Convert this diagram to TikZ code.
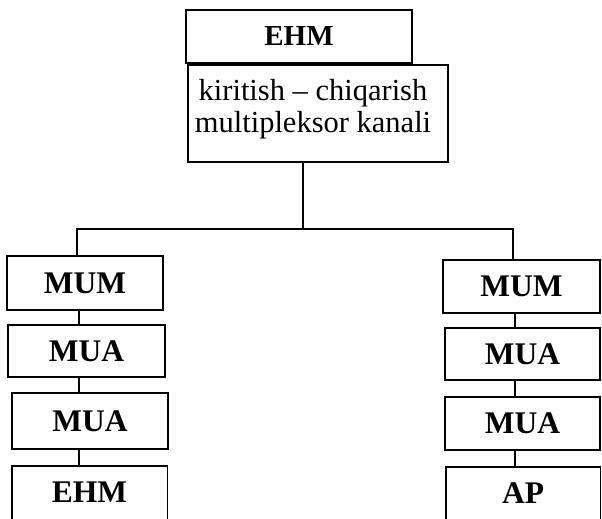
\documentclass[tikz,border=0pt]{standalone}
\usepackage{fontspec}
\setmainfont{Liberation Serif}
\begin{document}
\begin{tikzpicture}[x=1pt,y=-1pt,
  box/.style={draw, line width=1.4pt, inner sep=0pt, font=\fontsize{31.5}{32}\selectfont\bfseries},
  openbox/.style={inner sep=0pt, font=\fontsize{31.5}{32}\selectfont\bfseries},
  link/.style={line width=1.4pt}]
\useasboundingbox (0,0) rectangle (602,519);

% central computer and its channel
\node[box, minimum width=226pt, minimum height=53pt, font=\fontsize{29}{30}\selectfont\bfseries]
  (top) at (299,36.5) {EHM};
\node[draw, line width=1.4pt, minimum width=260pt, minimum height=97pt] (chan) at (318,113.5) {};
\node[align=center, inner sep=0pt, font=\fontsize{30.5}{32}\selectfont] (chantext) at (313,109)
  {kiritish -- chiqarish\\multipleksor kanali};

% left branch
\node[box, minimum width=156pt, minimum height=54pt] (lmum) at (85,283) {MUM};
\node[box, minimum width=157pt, minimum height=52pt] (lmua1) at (86.5,351) {MUA};
\node[box, minimum width=156pt, minimum height=56pt] (lmua2) at (90,421) {MUA};
\node[openbox, minimum width=155pt, minimum height=53pt] (lehm) at (89.5,492.5) {EHM};

% right branch
\node[box, minimum width=157pt, minimum height=53pt] (rmum) at (521.5,286.5) {MUM};
\node[box, minimum width=155pt, minimum height=52pt] (rmua1) at (522.5,354) {MUA};
\node[box, minimum width=155pt, minimum height=53pt] (rmua2) at (522.5,423.5) {MUA};
\node[openbox, minimum width=154pt, minimum height=52pt] (rap) at (523,493) {AP};

% boxes cut off at the lower edge
\draw[link] (lehm.south west) -- (lehm.north west) -- (lehm.north east) -- (lehm.south east);
\draw[link] (rap.south west) -- (rap.north west) -- (rap.north east) -- (rap.south east);

% bus from the channel to both branches
\coordinate (bus) at (303,229);
\coordinate (lb) at (77,229);
\coordinate (rb) at (513,229);
\draw[link] (chan.south -| bus) -- (bus);
\draw[link] (lmum.north -| lb) -- (lb) -- (rb) -- (rmum.north -| rb);

% chains inside each branch
\coordinate (lx) at (79,0);
\coordinate (rx) at (515,0);
\draw[link] (lmum.south -| lx) -- (lmua1.north -| lx);
\draw[link] (lmua1.south -| lx) -- (lmua2.north -| lx);
\draw[link] (lmua2.south -| lx) -- (lehm.north -| lx);
\draw[link] (rmum.south -| rx) -- (rmua1.north -| rx);
\draw[link] (rmua1.south -| rx) -- (rmua2.north -| rx);
\draw[link] (rmua2.south -| rx) -- (rap.north -| rx);
\end{tikzpicture}
\end{document}
